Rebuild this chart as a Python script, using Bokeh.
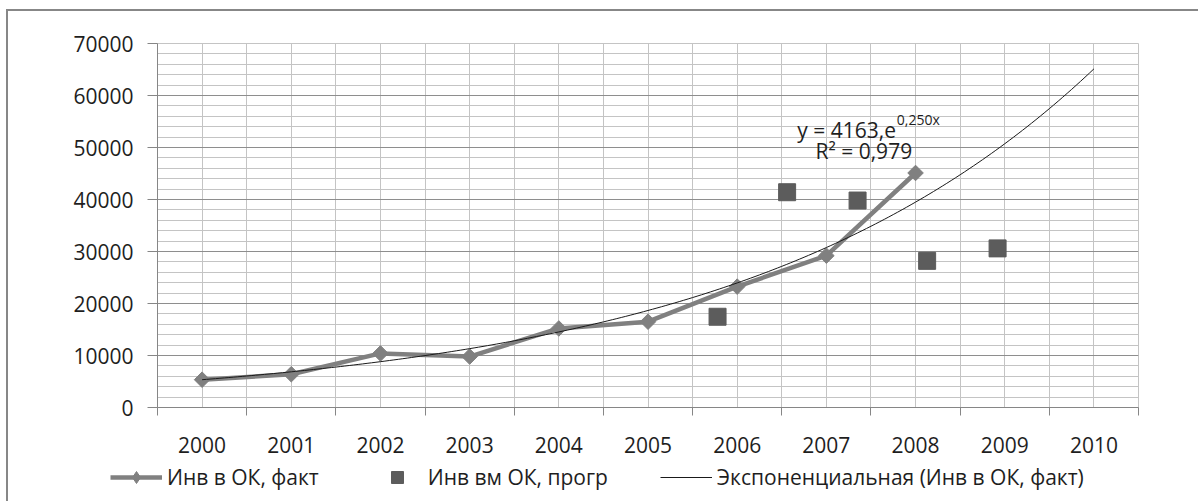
import numpy as np
from bokeh.plotting import figure
from bokeh.layouts import column
from bokeh.models import FixedTicker, Legend, LegendItem, Label
from bokeh.embed import file_html
from bokeh.resources import INLINE

# ---- data ----
years = [2000, 2001, 2002, 2003, 2004, 2005, 2006, 2007, 2008, 2009, 2010]
x_labels = [str(y) for y in years]
fact_years = [2000, 2001, 2002, 2003, 2004, 2005, 2006, 2007, 2008]
fact_values = [5350, 6400, 10400, 9800, 15200, 16500, 23250, 29200, 45100]
prog_x = [2005.78, 2006.56, 2007.35, 2008.13, 2008.92]
prog_values = [17450, 41400, 39800, 28200, 30600]
trend_a = 4163
trend_b = 0.250
trend_r2 = 0.979
y_ticks = [0, 10000, 20000, 30000, 40000, 50000, 60000, 70000]
y_minor = list(range(0, 70001, 2000))

series_names = ["Инв в ОК, факт", "Инв вм ОК, прогр", "Экспоненциальная (Инв в ОК, факт)"]

FONT = "Open Sans"
FS = "21px"
TXT = "#1e1e1e"
FACT_C = "#808080"
PROG_C = "#5c5c5c"
TREND_C = "#1a1a1a"

p = figure(width=1190, height=446, x_range=(1999.5, 2010.5), y_range=(0, 70000),
           output_backend="svg", toolbar_location=None,
           min_border_left=149, min_border_right=60, min_border_top=32, min_border_bottom=50)
p.frame_align = False
p.background_fill_color = "white"
p.border_fill_color = "white"
p.outline_line_color = "#c4c4c4"

# x axis: labels at category centres, tick marks at category boundaries
p.xaxis.ticker = FixedTicker(ticks=years, minor_ticks=[y - 0.5 for y in years] + [years[-1] + 0.5])
p.xaxis.major_label_overrides = {y: s for y, s in zip(years, x_labels)}
p.xaxis.major_tick_out = 0
p.xaxis.major_tick_in = 0
p.xaxis.minor_tick_out = 8
p.xaxis.minor_tick_in = 0
p.xaxis.minor_tick_line_color = "#868686"
p.xaxis.axis_line_color = "#868686"
p.xaxis.major_label_standoff = 21
p.xaxis.major_label_text_font = FONT
p.xaxis.major_label_text_font_size = FS
p.xaxis.major_label_text_color = TXT

p.yaxis.ticker = FixedTicker(ticks=y_ticks, minor_ticks=y_minor)
p.yaxis.major_label_overrides = {v: str(v) for v in y_ticks}
p.yaxis.major_tick_out = 10
p.yaxis.major_tick_in = 0
p.yaxis.minor_tick_out = 0
p.yaxis.minor_tick_in = 0
p.yaxis.major_tick_line_color = "#868686"
p.yaxis.axis_line_color = "#868686"
p.yaxis.major_label_standoff = 14
p.yaxis.major_label_text_font = FONT
p.yaxis.major_label_text_font_size = FS
p.yaxis.major_label_text_color = TXT

p.xgrid.grid_line_color = "#c4c4c4"
p.xgrid.minor_grid_line_color = "#c4c4c4"
p.ygrid.grid_line_color = "#8e8e8e"
p.ygrid.minor_grid_line_color = "#c4c4c4"
p.ygrid.minor_grid_line_width = 1.2

# series
p.line(fact_years, fact_values, line_color=FACT_C, line_width=4.5)
p.scatter(fact_years, fact_values, marker="square", angle=np.pi / 4, size=11,
          fill_color=FACT_C, line_color=FACT_C)
p.scatter(prog_x, prog_values, marker="square", size=17, fill_color=PROG_C, line_color=PROG_C)

tx = np.linspace(years[0], years[-1], 201)
ty = trend_a * np.exp(trend_b * (tx - (years[0] - 1)))
p.line(tx, ty, line_color=TREND_C, line_width=1)

b_txt = f"{trend_b:.3f}".replace(".", ",") + "x"
r2_txt = f"{trend_r2:.3f}".replace(".", ",")
p.add_layout(Label(x=2007.78, y=53400, text=f"y = {trend_a},e", text_align="right",
                   text_baseline="alphabetic", text_font=FONT, text_font_size=FS, text_color=TXT))
p.add_layout(Label(x=2007.79, y=55400, text=b_txt, text_align="left",
                   text_baseline="alphabetic", text_font=FONT, text_font_size="14px", text_color=TXT))
p.add_layout(Label(x=2007.42, y=49300, text=f"R² = {r2_txt}", text_align="center",
                   text_baseline="middle", text_font=FONT, text_font_size=FS, text_color=TXT))

# legend strip below the chart (its ranges keep the series data out of view,
# so only the legend glyphs are drawn)
pl = figure(width=1190, height=44, x_range=(0, 1), y_range=(0, 1), output_backend="svg",
            toolbar_location=None, x_axis_location=None, y_axis_location=None,
            min_border=0, min_border_left=0, min_border_right=0, min_border_top=0, min_border_bottom=0)
pl.frame_align = False
pl.grid.visible = False
pl.outline_line_color = None
pl.background_fill_color = "white"
pl.border_fill_color = "white"
l_fact = pl.line(fact_years, fact_values, line_color=FACT_C, line_width=4.5)
s_fact = pl.scatter(fact_years, fact_values, marker="diamond", size=13,
                    fill_color=FACT_C, line_color=FACT_C)
s_prog = pl.scatter(prog_x, prog_values, marker="square", size=17, fill_color=PROG_C, line_color=PROG_C)
l_trend = pl.line(tx, ty, line_color=TREND_C, line_width=1)

legend = Legend(items=[LegendItem(label=series_names[0], renderers=[l_fact, s_fact]),
                       LegendItem(label=series_names[1], renderers=[s_prog]),
                       LegendItem(label=series_names[2], renderers=[l_trend])],
                orientation="horizontal", location=(102, 9),
                glyph_width=52, glyph_height=30, label_standoff=5, spacing=52,
                padding=0, margin=0, border_line_color=None, background_fill_alpha=0,
                label_text_font=FONT, label_text_font_size=FS, label_text_color=TXT)
pl.add_layout(legend, "center")

layout = column(p, pl, spacing=0)
layout.styles = {"margin-left": "6px", "margin-top": "9px",
                 "border-left": "2px solid #878787", "border-top": "2px solid #878787"}

open("out.html", "w").write(file_html(layout, INLINE))
